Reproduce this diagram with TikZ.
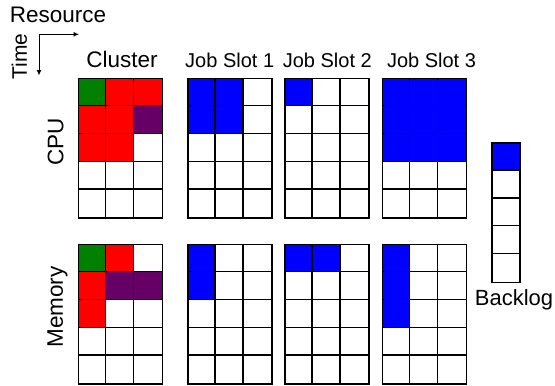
\documentclass[tikz,border=0pt]{standalone}
\usepackage{fontspec}
\setmainfont{Liberation Sans}
\usetikzlibrary{arrows.meta}
\definecolor{cgreen}{RGB}{0,128,0}
\definecolor{cred}{RGB}{255,0,0}
\definecolor{cpurple}{RGB}{102,0,102}
\definecolor{cblue}{RGB}{0,0,255}
\tikzset{
  gridline/.style={line width=1.4pt, black},
  gridbox/.style={draw, line width=1.7pt, inner sep=0pt, anchor=north west, minimum width=84pt, minimum height=139.5pt},
  lbl/.style={inner sep=0pt, anchor=base, text=black},
  axis/.style={line width=1pt, {Latex[length=5.5pt,width=5pt]}-{Latex[length=5.5pt,width=5pt]}},
}
\newcommand\cellgrid[4]{% #1 name, #2 x, #3 y, #4 fills cc/rr/colour
  \begin{scope}[shift={(#2,#3)}]
    \foreach \cc/\rr/\kk in {#4} {\fill[\kk] (\cc*28,\rr*27.9) rectangle ++(28,27.9);}
    \foreach \cc in {1,2} {\draw[gridline] (\cc*28,0) -- (\cc*28,139.5);}
    \foreach \rr in {1,2,3,4} {\draw[gridline] (0,\rr*27.9) -- (84,\rr*27.9);}
  \end{scope}
  \node[gridbox] (#1) at (#2,#3) {};
}
\begin{document}
\begin{tikzpicture}[x=1pt,y=-1pt]
\useasboundingbox (0,0) rectangle (555,386);
% axes
\coordinate (resEnd) at (79,34.3);
\coordinate (timeEnd) at (39,75.5);
\draw[axis] (timeEnd) |- (resEnd);
\node[lbl, font=\fontsize{22.5}{26}\selectfont] (resource) at (58,22) {Resource};
\node[lbl, rotate=90, font=\fontsize{21}{25}\selectfont] (time) at (27,56.5) {Time};
% headers
\node[lbl, font=\fontsize{22.5}{26}\selectfont] (cluster) at (122,67) {Cluster};
\node[lbl, font=\fontsize{20}{24}\selectfont] (js1) at (229.7,67) {Job Slot 1};
\node[lbl, font=\fontsize{20}{24}\selectfont] (js2) at (327.3,67) {Job Slot 2};
\node[lbl, font=\fontsize{20}{24}\selectfont] (js3) at (431.5,67) {Job Slot 3};
\node[lbl, rotate=90, font=\fontsize{22.5}{26}\selectfont] (cpu) at (63.3,141.7) {CPU};
\node[lbl, rotate=90, font=\fontsize{22.5}{26}\selectfont] (memory) at (62.8,307) {Memory};
% CPU row
\cellgrid{ccpu}{77.5}{77.5}{0/0/cgreen,1/0/cred,2/0/cred,0/1/cred,1/1/cred,2/1/cpurple,0/2/cred,1/2/cred}
\cellgrid{s1cpu}{187}{77.5}{0/0/cblue,1/0/cblue,0/1/cblue,1/1/cblue}
\cellgrid{s2cpu}{284}{77.5}{0/0/cblue}
\cellgrid{s3cpu}{381.5}{77.5}{0/0/cblue,1/0/cblue,2/0/cblue,0/1/cblue,1/1/cblue,2/1/cblue,0/2/cblue,1/2/cblue,2/2/cblue}
% memory row
\cellgrid{cmem}{77.5}{243.5}{0/0/cgreen,1/0/cred,0/1/cred,1/1/cpurple,2/1/cpurple,0/2/cred}
\cellgrid{s1mem}{187}{243.5}{0/0/cblue,0/1/cblue}
\cellgrid{s2mem}{284}{243.5}{0/0/cblue,1/0/cblue}
\cellgrid{s3mem}{381.5}{243.5}{0/0/cblue,0/1/cblue,0/2/cblue}
% backlog
\begin{scope}[shift={(491,142)}]
  \fill[cblue] (0,0) rectangle (28,27.9);
  \foreach \rr in {1,2,3,4} {\draw[gridline] (0,\rr*27.9) -- (28,\rr*27.9);}
\end{scope}
\node[gridbox, minimum width=28pt] (backlog) at (491,142) {};
\node[lbl, font=\fontsize{22}{26}\selectfont] (backlogtxt) at (514,305.5) {Backlog};
\end{tikzpicture}
\end{document}
